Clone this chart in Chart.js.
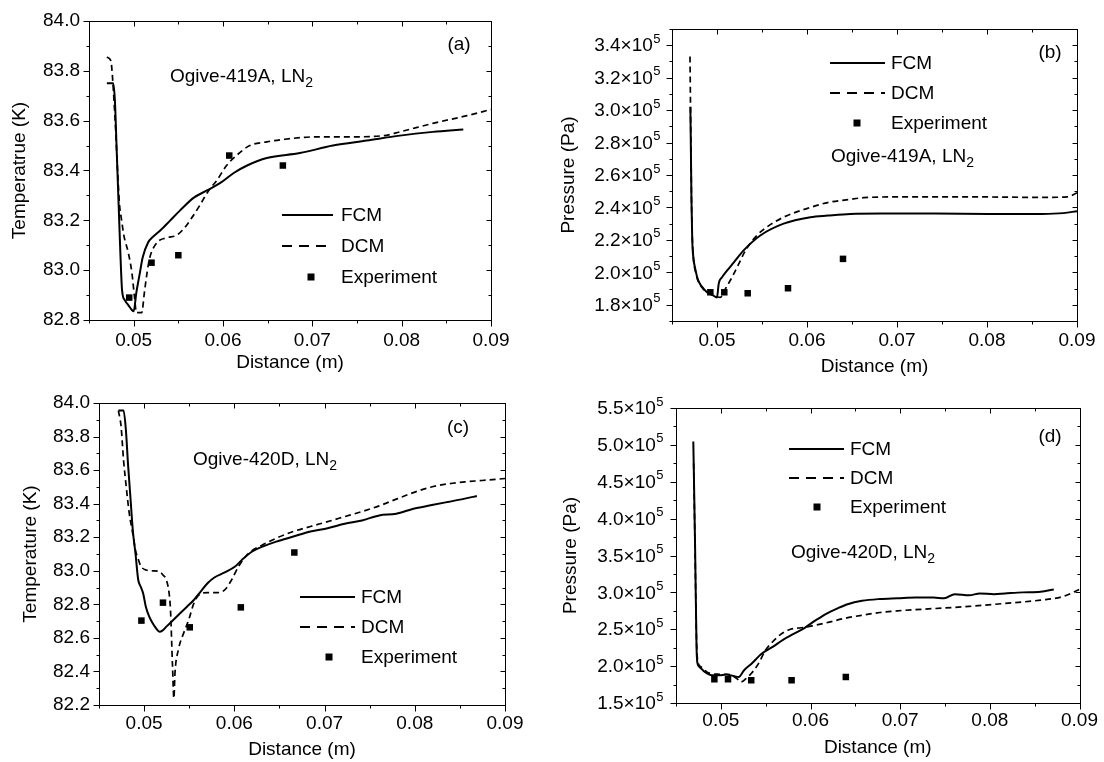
<!DOCTYPE html>
<html>
<head>
<meta charset="utf-8">
<script src="https://cdn.jsdelivr.net/npm/chart.js@4.4.1/dist/chart.umd.min.js"></script>
<style>
  html, body { margin: 0; padding: 0; background: #fff; }
  #wrap { position: relative; width: 1104px; height: 762px; overflow: hidden; }
  canvas { position: absolute; }
</style>
</head>
<body>
<div id="wrap">
  <canvas id="pa" width="552" height="381" style="left:0;top:0"></canvas>
  <canvas id="pb" width="552" height="381" style="left:552px;top:0"></canvas>
  <canvas id="pc" width="552" height="381" style="left:0;top:381px"></canvas>
  <canvas id="pd" width="552" height="381" style="left:552px;top:381px"></canvas>
</div>
<script>
// (a) temperature, Ogive-419A
const aFcmX = [0.0470, 0.0477, 0.0479, 0.0481, 0.0483, 0.0485, 0.0487, 0.0490, 0.0494, 0.0498, 0.0500, 0.0503, 0.0507, 0.0510, 0.0516, 0.0522, 0.0530, 0.0541, 0.0552, 0.0567, 0.0582, 0.0597, 0.0612, 0.0627, 0.0649, 0.0686, 0.0723, 0.0761, 0.0798, 0.0835, 0.0869];
const aFcmT = [83.75, 83.75, 83.68, 83.48, 83.28, 83.08, 82.92, 82.88, 82.86, 82.84, 82.835, 82.91, 82.99, 83.05, 83.11, 83.135, 83.16, 83.20, 83.24, 83.29, 83.32, 83.35, 83.39, 83.42, 83.45, 83.47, 83.50, 83.52, 83.54, 83.555, 83.565];
const aDcmX = [0.0470, 0.04745, 0.0476, 0.0478, 0.0480, 0.0482, 0.0484, 0.04865, 0.0489, 0.0494, 0.0498, 0.0501, 0.0503, 0.0509, 0.0512, 0.0515, 0.0518, 0.0526, 0.0537, 0.0548, 0.0557, 0.0565, 0.0574, 0.0584, 0.0593, 0.0604, 0.0615, 0.0630, 0.0649, 0.0668, 0.0705, 0.0742, 0.0780, 0.0798, 0.0836, 0.0873, 0.0900];
const aDcmT = [83.855, 83.84, 83.79, 83.68, 83.55, 83.40, 83.27, 83.20, 83.14, 83.07, 82.99, 82.89, 82.83, 82.83, 82.91, 82.99, 83.05, 83.11, 83.13, 83.14, 83.17, 83.21, 83.26, 83.32, 83.36, 83.42, 83.46, 83.50, 83.515, 83.525, 83.535, 83.535, 83.54, 83.555, 83.59, 83.62, 83.645];
const aExpX = [0.0495, 0.0520, 0.0550, 0.0607, 0.0667];
const aExpT = [82.89, 83.03, 83.06, 83.46, 83.42];

// (b) pressure, Ogive-419A
const bFcmX = [0.04704, 0.0471, 0.04716, 0.04725, 0.0474, 0.04759, 0.04785, 0.04815, 0.0485, 0.04889, 0.0495, 0.0500, 0.05019, 0.05056, 0.05111, 0.05185, 0.05296, 0.05481, 0.0574, 0.06037, 0.0623, 0.0648, 0.0683, 0.0742, 0.0802, 0.0861, 0.0885, 0.0900];
const bFcmP = [3.02e5, 2.75e5, 2.45e5, 2.2e5, 2.08e5, 2.02e5, 1.96e5, 1.925e5, 1.9e5, 1.878e5, 1.86e5, 1.845e5, 1.93e5, 1.97e5, 2.01e5, 2.06e5, 2.135e5, 2.227e5, 2.30e5, 2.34e5, 2.35e5, 2.36e5, 2.362e5, 2.362e5, 2.36e5, 2.36e5, 2.365e5, 2.377e5];
const bDcmX = [0.04700, 0.04706, 0.04712, 0.04718, 0.04728, 0.0474, 0.04759, 0.04785, 0.04815, 0.0485, 0.04889, 0.0495, 0.0500, 0.05037, 0.05093, 0.05167, 0.0524, 0.05296, 0.0537, 0.05456, 0.05556, 0.0574, 0.06037, 0.0623, 0.0648, 0.0663, 0.0702, 0.0782, 0.0861, 0.0889, 0.0900];
const bDcmP = [3.33e5, 3.0e5, 2.7e5, 2.4e5, 2.18e5, 2.07e5, 2.01e5, 1.955e5, 1.92e5, 1.895e5, 1.875e5, 1.86e5, 1.85e5, 1.846e5, 1.898e5, 1.97e5, 2.05e5, 2.114e5, 2.18e5, 2.235e5, 2.28e5, 2.34e5, 2.40e5, 2.43e5, 2.45e5, 2.46e5, 2.465e5, 2.465e5, 2.462e5, 2.465e5, 2.49e5];
const bExpX = [0.04926, 0.05081, 0.05341, 0.05789, 0.0640];
const bExpP = [1.877e5, 1.877e5, 1.871e5, 1.902e5, 2.083e5];

// (c) temperature, Ogive-420D
const cFcmX = [0.04715, 0.04772, 0.04798, 0.04821, 0.04848, 0.04875, 0.04905, 0.04935, 0.04962, 0.04989, 0.05019, 0.05057, 0.05095, 0.05133, 0.05171, 0.05202, 0.05247, 0.05323, 0.05399, 0.05475, 0.05551, 0.05627, 0.05703, 0.05779, 0.05894, 0.06008, 0.06084, 0.06198, 0.06312, 0.06464, 0.06654, 0.06844, 0.07034, 0.07224, 0.07414, 0.07605, 0.07795, 0.07985, 0.08175, 0.08365, 0.08555, 0.08688];
const cFcmT = [83.955, 83.955, 83.84, 83.64, 83.44, 83.24, 83.10, 82.945, 82.906, 82.866, 82.786, 82.727, 82.687, 82.657, 82.637, 82.643, 82.667, 82.707, 82.747, 82.786, 82.826, 82.876, 82.926, 82.96, 82.99, 83.025, 83.065, 83.115, 83.144, 83.174, 83.204, 83.234, 83.254, 83.28, 83.30, 83.33, 83.34, 83.37, 83.39, 83.41, 83.43, 83.446];
const cDcmX = [0.04715, 0.04745, 0.04772, 0.04798, 0.04836, 0.04875, 0.04905, 0.04932, 0.04962, 0.05019, 0.05095, 0.05171, 0.05209, 0.05247, 0.05277, 0.05292, 0.05315, 0.0533, 0.05342, 0.0538, 0.05437, 0.05494, 0.05551, 0.05608, 0.05703, 0.05817, 0.05894, 0.0597, 0.06046, 0.0616, 0.06312, 0.06464, 0.06654, 0.06844, 0.07034, 0.07224, 0.07414, 0.07605, 0.07795, 0.07985, 0.08175, 0.08365, 0.08555, 0.08745, 0.0900];
const cDcmT = [83.955, 83.86, 83.66, 83.52, 83.34, 83.22, 83.12, 83.075, 83.03, 83.005, 83.0, 82.995, 82.975, 82.945, 82.866, 82.77, 82.43, 82.24, 82.39, 82.53, 82.627, 82.707, 82.806, 82.856, 82.87, 82.87, 82.886, 82.946, 83.025, 83.105, 83.154, 83.194, 83.234, 83.264, 83.293, 83.323, 83.353, 83.387, 83.427, 83.466, 83.498, 83.518, 83.53, 83.538, 83.55];
const cExpX = [0.0497, 0.05209, 0.05506, 0.06072, 0.06665];
const cExpT = [82.703, 82.81, 82.663, 82.782, 83.109];

// (d) pressure, Ogive-420D
const dFcmX = [0.04693, 0.04713, 0.04729, 0.04741, 0.04761, 0.04821, 0.049, 0.0498, 0.0506, 0.05139, 0.05199, 0.05259, 0.05339, 0.05458, 0.05578, 0.05697, 0.05817, 0.05936, 0.06056, 0.06175, 0.06295, 0.06414, 0.06574, 0.06773, 0.06972, 0.07171, 0.07371, 0.0749, 0.0761, 0.07769, 0.07888, 0.08048, 0.08167, 0.08367, 0.08566, 0.08713];
const dFcmP = [5.046e5, 3.62e5, 2.26e5, 2.03e5, 1.99e5, 1.92e5, 1.876e5, 1.876e5, 1.885e5, 1.867e5, 1.853e5, 1.944e5, 2.03e5, 2.17e5, 2.26e5, 2.36e5, 2.44e5, 2.52e5, 2.62e5, 2.71e5, 2.78e5, 2.84e5, 2.886e5, 2.91e5, 2.92e5, 2.93e5, 2.93e5, 2.92e5, 2.976e5, 2.96e5, 2.985e5, 2.976e5, 2.985e5, 3.0e5, 3.01e5, 3.04e5];
const dDcmX = [0.04697, 0.04713, 0.04729, 0.04745, 0.0478, 0.0486, 0.0498, 0.0510, 0.0518, 0.0522, 0.0528, 0.05339, 0.05418, 0.05498, 0.05578, 0.05657, 0.05777, 0.05896, 0.06016, 0.06175, 0.06375, 0.06574, 0.06773, 0.06972, 0.07371, 0.07769, 0.08167, 0.08566, 0.08805, 0.0900];
const dDcmP = [4.75e5, 3.53e5, 2.35e5, 2.06e5, 1.99e5, 1.91e5, 1.89e5, 1.885e5, 1.83e5, 1.785e5, 1.83e5, 1.9e5, 2.03e5, 2.215e5, 2.33e5, 2.42e5, 2.50e5, 2.52e5, 2.545e5, 2.587e5, 2.646e5, 2.69e5, 2.727e5, 2.75e5, 2.78e5, 2.81e5, 2.85e5, 2.895e5, 2.94e5, 3.04e5];
const dExpX = [0.04928, 0.0508, 0.05339, 0.05789, 0.06394];
const dExpP = [1.822e5, 1.822e5, 1.808e5, 1.808e5, 1.853e5];

const FONT = "'Liberation Sans', Arial, sans-serif";
Chart.defaults.font.family = FONT;
Chart.defaults.font.size = 19;
Chart.defaults.color = '#000';

const pairs = (xs, ys) => xs.map((x, i) => ({ x, y: ys[i] }));
const tempLabel = v => (Math.round(v * 10) % 2 === 0 ? v.toFixed(1) : '');
const xLabel = v => (Math.round(v * 1000) % 10 === 0 ? v.toFixed(2) : '');

// box, ticks (out on left/bottom, in on top/right), sci tick labels, legend and notes
const decor = {
  id: 'decor',
  afterDatasetsDraw(chart, args, o) {
    const { ctx, chartArea: a, scales } = chart;
    const yLab = scales.y.options.ticks.callback;
    ctx.save();
    ctx.strokeStyle = '#000';
    ctx.fillStyle = '#000';
    ctx.lineWidth = 1;
    ctx.setLineDash([]);
    const L = Math.round(a.left) + 0.5, R = Math.round(a.right) + 0.5;
    const T = Math.round(a.top) + 0.5, B = Math.round(a.bottom) + 0.5;
    ctx.strokeRect(L, T, R - L, B - T);
    ctx.beginPath();
    scales.x.ticks.forEach(t => {
      const p = Math.round(scales.x.getPixelForValue(t.value)) + 0.5;
      const major = xLabel(t.value) !== '';
      ctx.moveTo(p, B); ctx.lineTo(p, B + (major ? 6 : 3));
      ctx.moveTo(p, T); ctx.lineTo(p, T + (major ? 5 : 3));
    });
    scales.y.ticks.forEach(t => {
      const p = Math.round(scales.y.getPixelForValue(t.value)) + 0.5;
      const major = yLab(t.value) !== '';
      ctx.moveTo(L, p); ctx.lineTo(L - (major ? 6 : 3), p);
      ctx.moveTo(R, p); ctx.lineTo(R - (major ? 5 : 3), p);
    });
    ctx.stroke();

    if (o.sci) {
      // mantissa×10 with a raised exponent, right-aligned against the axis
      ctx.textBaseline = 'middle';
      ctx.textAlign = 'left';
      scales.y.ticks.forEach(t => {
        const m = yLab(t.value);
        if (m === '') return;
        const p = scales.y.getPixelForValue(t.value);
        const base = m + '×10';
        ctx.font = '19px ' + FONT;
        const w1 = ctx.measureText(base).width;
        ctx.font = '13px ' + FONT;
        const w2 = ctx.measureText(o.sci).width;
        const x0 = a.left - o.sciPad - w1 - w2;
        ctx.font = '19px ' + FONT;
        ctx.fillText(base, x0, p + 1);
        ctx.font = '13px ' + FONT;
        ctx.fillText(o.sci, x0 + w1 + 0.5, p - 6);
      });
    }
    ctx.restore();
  },
  afterDraw(chart, args, o) {
    const ctx = chart.ctx;
    ctx.save();
    ctx.fillStyle = '#000';
    ctx.strokeStyle = '#000';
    ctx.font = '19px ' + FONT;
    ctx.textBaseline = 'middle';
    ctx.textAlign = 'center';
    ctx.fillText(o.tag.text, o.tag.x, o.tag.y);
    ctx.textAlign = 'left';
    ctx.fillText(o.note.text, o.note.x, o.note.y);
    const w = ctx.measureText(o.note.text).width;
    ctx.font = '14px ' + FONT;
    ctx.fillText(o.note.sub, o.note.x + w, o.note.y + 6);
    ctx.font = '19px ' + FONT;
    const lg = o.legend;
    chart.data.datasets.forEach((ds, i) => {
      const y = lg.y + i * lg.dy;
      if (ds.showLine === false) {
        ctx.fillRect(lg.mark - 3.5, y - 3.5, 7, 7);
      } else {
        ctx.lineWidth = 2;
        ctx.setLineDash(ds.borderDash ? [10, 7] : []);
        ctx.beginPath();
        ctx.moveTo(lg.x0, y);
        ctx.lineTo(lg.x1, y);
        ctx.stroke();
      }
      ctx.fillText(ds.label, lg.tx, y + 1);
    });
    ctx.restore();
  }
};

function panel(id, p) {
  return new Chart(document.getElementById(id), {
    type: 'line',
    data: {
      datasets: [
        { label: 'FCM', data: pairs(p.fcm[0], p.fcm[1]), borderColor: '#000', borderWidth: 2,
          pointRadius: 0, cubicInterpolationMode: 'monotone' },
        { label: 'DCM', data: pairs(p.dcm[0], p.dcm[1]), borderColor: '#000', borderWidth: 1.7,
          borderDash: [6, 4], pointRadius: 0, cubicInterpolationMode: 'monotone' },
        { label: 'Experiment', data: pairs(p.exp[0], p.exp[1]), showLine: false, pointStyle: 'rect',
          pointRadius: 4.6, pointBorderWidth: 0, backgroundColor: '#000', borderColor: '#000' }
      ]
    },
    options: {
      responsive: false,
      animation: false,
      devicePixelRatio: 1,
      layout: { padding: { left: 0, top: p.top, right: p.right, bottom: 0 } },
      plugins: {
        legend: { display: false },
        tooltip: { enabled: false },
        decor: { tag: p.tag, note: p.note, legend: p.legend, sci: p.sci || null, sciPad: p.yPad }
      },
      scales: {
        x: {
          type: 'linear', min: 0.045, max: 0.09,
          afterFit: s => { s.height = p.xH; },
          grid: { display: false, drawTicks: false }, border: { display: false },
          ticks: { stepSize: 0.005, autoSkip: false, maxRotation: 0, padding: p.xPad, callback: xLabel },
          title: { display: true, text: 'Distance (m)', padding: { top: 0, bottom: p.xTitlePad } }
        },
        y: {
          type: 'linear', min: p.yMin, max: p.yMax,
          afterFit: s => { s.width = p.yW; },
          grid: { display: false, drawTicks: false }, border: { display: false },
          ticks: { display: !p.sci, stepSize: p.yStep, autoSkip: false, padding: p.yPad, callback: p.yLabel },
          title: { display: true, text: p.yTitle, padding: { top: p.yTitlePad, bottom: 0 } }
        }
      }
    },
    plugins: [decor]
  });
}

panel('pa', {
  fcm: [aFcmX, aFcmT], dcm: [aDcmX, aDcmT], exp: [aExpX, aExpT],
  yMin: 82.8, yMax: 84.0, yStep: 0.1, yLabel: tempLabel, yTitle: 'Temperatrue (K)',
  top: 21, right: 61, yW: 89, xH: 61, xPad: 9, yPad: 9, xTitlePad: 7, yTitlePad: 8,
  tag: { text: '(a)', x: 459, y: 45 },
  note: { text: 'Ogive-419A, LN', sub: '2', x: 170, y: 77 },
  legend: { x0: 282, x1: 333, mark: 311, tx: 341, y: 215, dy: 31 }
});

panel('pb', {
  fcm: [bFcmX, bFcmP], dcm: [bDcmX, bDcmP], exp: [bExpX, bExpP],
  yMin: 1.7e5, yMax: 3.5e5, yStep: 1e4, yTitle: 'Pressure (Pa)', sci: '5',
  yLabel: v => (Math.round(v / 1e4) % 2 === 0 ? (v / 1e5).toFixed(1) : ''),
  top: 29, right: 27, yW: 120, xH: 60, xPad: 8, yPad: 12, xTitlePad: 3, yTitlePad: 5,
  tag: { text: '(b)', x: 498, y: 53 },
  note: { text: 'Ogive-419A, LN', sub: '2', x: 279, y: 157 },
  legend: { x0: 278, x1: 333, mark: 305, tx: 339, y: 63, dy: 30 }
});

panel('pc', {
  fcm: [cFcmX, cFcmT], dcm: [cDcmX, cDcmT], exp: [cExpX, cExpT],
  yMin: 82.2, yMax: 84.0, yStep: 0.1, yLabel: tempLabel, yTitle: 'Temperature (K)',
  top: 22, right: 47, yW: 99, xH: 57, xPad: 7, yPad: 9, xTitlePad: 1, yTitlePad: 19,
  tag: { text: '(c)', x: 458, y: 47 },
  note: { text: 'Ogive-420D, LN', sub: '2', x: 193, y: 79 },
  legend: { x0: 300, x1: 355, mark: 329, tx: 361, y: 216, dy: 30 }
});

panel('pd', {
  fcm: [dFcmX, dFcmP], dcm: [dDcmX, dDcmP], exp: [dExpX, dExpP],
  yMin: 1.5e5, yMax: 5.5e5, yStep: 2.5e4, yTitle: 'Pressure (Pa)', sci: '5',
  yLabel: v => (Math.round(v / 2.5e4) % 2 === 0 ? (v / 1e5).toFixed(1) : ''),
  top: 27, right: 21, yW: 124, xH: 59, xPad: 6, yPad: 13, xTitlePad: 3, yTitlePad: 7,
  tag: { text: '(d)', x: 498, y: 56 },
  note: { text: 'Ogive-420D, LN', sub: '2', x: 239, y: 172 },
  legend: { x0: 237, x1: 292, mark: 265, tx: 298, y: 68, dy: 29 }
});
</script>
</body>
</html>
